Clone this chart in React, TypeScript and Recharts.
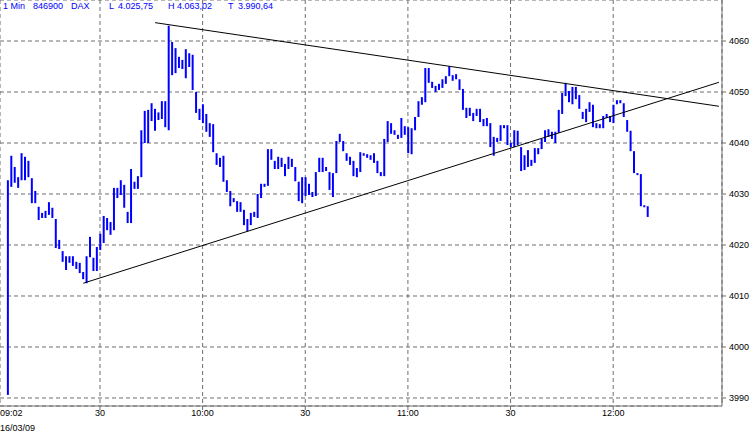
import React from 'react';
import { ComposedChart, Bar, XAxis, YAxis, CartesianGrid, ReferenceLine } from 'recharts';

// 1-minute bars, DAX 16/03/09, first bar at 09:03
const FIRST_MINUTE = 3;

const lows = [
  3990.6, 4031.4, 4032.2, 4031.2, 4032.7, 4032.7, 4033.3, 4028.2, 4028.2, 4024.9,
  4025.3, 4025.3, 4025.9, 4025.3, 4019.4, 4019.2, 4016.7, 4015.1, 4016.5, 4015.9,
  4015.3, 4014.5, 4013.3, 4012.5, 4017.6, 4014.9, 4014.9, 4019.0, 4020.4, 4022.9,
  4022.0, 4022.9, 4029.2, 4029.8, 4027.3, 4024.3, 4024.3, 4031.0, 4031.0, 4033.3,
  4040.0, 4040.0, 4044.3, 4042.4, 4044.5, 4044.7, 4043.1, 4042.5, 4053.3, 4053.7,
  4054.7, 4054.5, 4052.7, 4054.9, 4050.4, 4045.9, 4044.5, 4043.9, 4042.2, 4041.2,
  4038.2, 4035.7, 4035.3, 4032.4, 4030.4, 4027.6, 4028.4, 4026.5, 4026.5, 4023.9,
  4022.7, 4023.9, 4025.5, 4025.3, 4029.2, 4031.4, 4031.6, 4036.7, 4034.9, 4034.9,
  4035.3, 4033.5, 4034.9, 4035.3, 4032.5, 4028.6, 4028.2, 4029.6, 4029.8, 4029.4,
  4029.6, 4034.3, 4034.3, 4034.5, 4030.8, 4029.4, 4034.1, 4040.2, 4038.4, 4036.5,
  4035.7, 4033.5, 4033.3, 4034.3, 4037.5, 4037.1, 4036.7, 4036.1, 4034.1, 4033.5,
  4033.5, 4040.2, 4041.8, 4041.6, 4040.8, 4041.0, 4041.6, 4038.0, 4037.8, 4042.5,
  4045.1, 4047.5, 4048.0, 4051.8, 4050.8, 4050.0, 4050.4, 4050.8, 4051.6, 4053.1,
  4052.2, 4052.5, 4050.4, 4046.5, 4044.9, 4045.3, 4044.3, 4045.3, 4044.1, 4043.3,
  4043.3, 4039.2, 4037.5, 4040.2, 4040.4, 4042.9, 4039.6, 4039.2, 4039.2, 4039.6,
  4034.5, 4034.7, 4035.3, 4035.5, 4036.1, 4037.8, 4038.8, 4040.2, 4041.2, 4040.8,
  4040.0, 4042.0, 4045.7, 4049.2, 4048.0, 4047.6, 4048.6, 4046.7, 4044.7, 4044.1,
  4046.1, 4043.1, 4042.9, 4042.9, 4042.9, 4044.9, 4044.1, 4043.9, 4047.6, 4047.8,
  4045.1, 4042.2, 4038.4, 4034.1, 4033.7, 4027.6, 4027.4, 4025.5,
];

const highs = [
  4032.7, 4037.5, 4035.3, 4033.3, 4038.0, 4037.3, 4036.5, 4033.1, 4030.6, 4027.5,
  4026.3, 4026.7, 4028.4, 4027.3, 4025.1, 4021.0, 4018.8, 4017.8, 4017.8, 4017.8,
  4016.7, 4016.5, 4014.7, 4017.8, 4021.6, 4017.5, 4019.6, 4022.2, 4025.7, 4025.3,
  4024.5, 4031.2, 4031.2, 4032.7, 4031.8, 4026.5, 4034.9, 4032.4, 4033.5, 4042.5,
  4046.3, 4046.5, 4047.8, 4046.7, 4046.0, 4048.2, 4048.2, 4063.0, 4059.8, 4058.6,
  4056.9, 4056.3, 4058.4, 4057.6, 4057.3, 4050.0, 4046.7, 4047.6, 4045.7, 4043.9,
  4043.7, 4038.0, 4037.1, 4037.5, 4032.7, 4030.6, 4029.2, 4028.6, 4028.4, 4026.9,
  4025.1, 4026.3, 4026.5, 4030.0, 4032.0, 4032.0, 4038.8, 4038.8, 4036.5, 4037.3,
  4037.1, 4035.9, 4037.3, 4036.9, 4035.3, 4032.4, 4033.3, 4033.3, 4032.0, 4030.4,
  4034.3, 4037.1, 4037.1, 4035.3, 4034.3, 4034.1, 4040.4, 4041.8, 4040.4, 4038.0,
  4037.3, 4036.5, 4035.1, 4038.2, 4038.0, 4037.8, 4037.6, 4038.0, 4036.5, 4034.3,
  4040.8, 4044.3, 4043.9, 4042.5, 4041.6, 4044.9, 4043.3, 4043.1, 4042.9, 4045.1,
  4048.2, 4049.0, 4054.7, 4054.7, 4052.0, 4051.2, 4051.6, 4052.5, 4053.1, 4055.1,
  4053.3, 4053.5, 4052.5, 4050.6, 4046.9, 4046.9, 4045.9, 4046.7, 4046.7, 4044.7,
  4044.9, 4043.9, 4041.2, 4041.0, 4043.5, 4043.5, 4043.5, 4040.0, 4042.5, 4042.4,
  4039.2, 4037.6, 4038.6, 4036.7, 4039.0, 4039.0, 4040.8, 4042.5, 4042.7, 4042.2,
  4042.2, 4046.5, 4049.8, 4051.8, 4050.2, 4051.0, 4051.0, 4049.4, 4046.1, 4046.7,
  4048.0, 4047.5, 4043.9, 4043.7, 4045.3, 4045.7, 4045.3, 4047.5, 4048.4, 4048.4,
  4047.8, 4044.5, 4042.4, 4038.4, 4034.1, 4033.9, 4027.8, 4027.6,
];

const xTicks = [30, 60, 90, 120, 150, 180];
const xTickLabels = ['30', '10:00', '30', '11:00', '30', '12:00'];
const yTicks = [3990, 4000, 4010, 4020, 4030, 4040, 4050, 4060];

// hand-drawn trend lines (minute, price)
const upperLine = [{ x: 46.1, y: 4063.6 }, { x: 210.9, y: 4047.2 }];
const lowerLine = [{ x: 25.1, y: 4012.5 }, { x: 210.9, y: 4051.9 }];

const header = [
  { text: '1 Min', left: 3 },
  { text: '846900', left: 33 },
  { text: 'DAX', left: 71 },
  { text: 'L', left: 109 },
  { text: '4.025,75', left: 118 },
  { text: 'H', left: 168 },
  { text: '4.063,02', left: 177 },
  { text: 'T', left: 228 },
  { text: '3.990,64', left: 238 },
];

const data = lows.map((low, i) => ({
  minute: FIRST_MINUTE + i,
  range: [low, highs[i]],
}));

const font = '"Liberation Sans", Arial, sans-serif';

export default function App() {
  return (
    <div style={{ position: 'absolute', left: 0, top: 0, width: 753, height: 436, background: '#fff', fontFamily: font }}>
      <ComposedChart width={753} height={436} data={data} margin={{ top: 0, right: 0, bottom: 0, left: 0 }}>
        <CartesianGrid strokeDasharray="4 3" stroke="#6e6e6e" ticks={undefined} />
        <XAxis
          dataKey="minute"
          type="number"
          domain={[0.78, 211.8]}
          allowDataOverflow
          ticks={xTicks}
          interval={0}
          tickFormatter={(v: number) => xTickLabels[xTicks.indexOf(v)] ?? ''}
          height={30}
          tickSize={4}
          tickMargin={0}
          stroke="#6e6e6e"
          tick={{ fill: '#000', fontSize: 9, fontFamily: font }}
        />
        <YAxis
          orientation="right"
          type="number"
          domain={[3988.43, 4068.04]}
          allowDataOverflow
          ticks={yTicks}
          interval={0}
          width={31}
          tickSize={4}
          tickMargin={3}
          stroke="#6e6e6e"
          tick={{ fill: '#000', fontSize: 9, fontFamily: font }}
        />
        <ReferenceLine segment={upperLine} stroke="#000" strokeWidth={1} ifOverflow="visible" />
        <ReferenceLine segment={lowerLine} stroke="#000" strokeWidth={1} ifOverflow="visible" />
        <Bar dataKey="range" fill="#0000ff" barSize={2} isAnimationActive={false} />
      </ComposedChart>
      {header.map((h) => (
        <span
          key={h.left}
          style={{ position: 'absolute', left: h.left, top: 1, fontSize: 9, color: '#0000ff', fontFamily: font, lineHeight: '11px' }}
        >
          {h.text}
        </span>
      ))}
      <span style={{ position: 'absolute', left: 0, top: 408, fontSize: 9, fontFamily: font, lineHeight: '11px' }}>09:02</span>
      <span style={{ position: 'absolute', left: 0, top: 423, fontSize: 9, fontFamily: font, lineHeight: '11px' }}>16/03/09</span>
    </div>
  );
}
